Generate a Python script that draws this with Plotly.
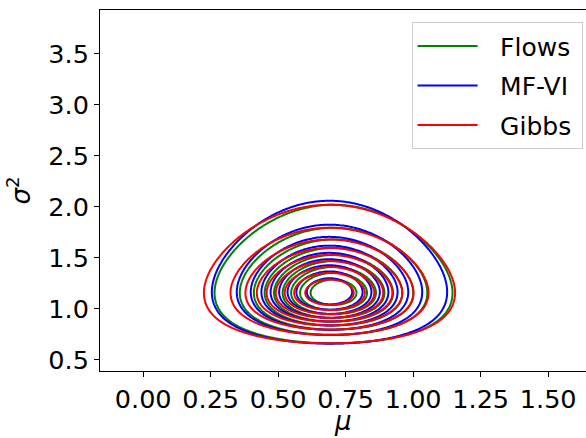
import numpy as np
import plotly.graph_objects as go

# Posterior summaries per inference method (mu, and sigma^2 on log scale)
methods = ["Flows", "MF-VI", "Gibbs"]
colors = ["green", "blue", "red"]
mu_center = [0.705, 0.690, 0.690]
mu_spread = [0.180, 0.178, 0.190]
log_s2_center = [0.145, 0.152, 0.145]
log_s2_spread = [0.228, 0.233, 0.228]

# Iso-proportion levels (fraction of peak density), 10 levels from 5% upward
level_start = 0.05
n_levels = 10

x_ticks = [0.00, 0.25, 0.50, 0.75, 1.00, 1.25, 1.50]
y_ticks = [0.5, 1.0, 1.5, 2.0, 2.5, 3.0, 3.5]

mu_grid = np.linspace(-0.2, 1.7, 320)
log_s2_grid = np.linspace(np.log(0.3), np.log(4.0), 320)
s2_grid = np.exp(log_s2_grid)

fig = go.Figure()
step = (1 - level_start) / (n_levels - 1)
for name, col, mc, ms, lc, ls in zip(methods, colors, mu_center, mu_spread,
                                      log_s2_center, log_s2_spread):
    M, L = np.meshgrid(mu_grid, log_s2_grid)
    z = np.exp(-0.5 * (((M - mc) / ms) ** 2 + ((L - lc) / ls) ** 2))
    fig.add_trace(go.Contour(
        x=mu_grid, y=s2_grid, z=z,
        contours=dict(start=level_start, end=level_start + step * (n_levels - 2),
                      size=step, coloring="lines"),
        colorscale=[[0, col], [1, col]],
        line=dict(width=2),
        showscale=False, showlegend=False, hoverinfo="skip",
        legendgroup=name,
    ))
    # legend entry with a little spacing between the line sample and the label
    fig.add_trace(go.Scatter(x=[None], y=[None], mode="lines",
                             name="\u2002\u2009" + name + "\u2009",
                             legendgroup=name,
                             line=dict(color=col, width=2)))

axis_common = dict(showline=True, linecolor="black", linewidth=1, mirror=True,
                   ticks="outside", ticklen=5, tickcolor="black", showgrid=False,
                   zeroline=False, automargin=False,
                   tickfont=dict(size=25.5, color="black"))
fig.update_xaxes(range=[-0.16, 1.64], tickvals=x_ticks,
                 ticktext=[f"{v:.2f}" for v in x_ticks],
                 **axis_common)
fig.update_yaxes(range=[0.39, 3.93], tickvals=y_ticks,
                 ticktext=[f"{v:.1f}" for v in y_ticks],
                 title=dict(text="<i>σ</i><sup>2</sup>", font=dict(size=26, color="black"), standoff=10),
                 **axis_common)
# x-axis label placed just below the tick labels
fig.add_annotation(text="<i>μ</i>", xref="paper", yref="paper", x=0.5, y=-0.138,
                   xanchor="center", yanchor="middle", showarrow=False,
                   font=dict(size=26, color="black"))
fig.update_layout(
    width=586, height=438,
    margin=dict(l=100, r=0, t=10, b=67),
    plot_bgcolor="white", paper_bgcolor="white",
    font=dict(family="DejaVu Sans", color="black"),
    legend=dict(x=0.993, xanchor="right", y=0.966, yanchor="top",
                font=dict(size=25), bordercolor="#cccccc", borderwidth=1,
                bgcolor="rgba(255,255,255,0.8)", tracegroupgap=4, itemwidth=60),
)
fig.write_html("out.html")
